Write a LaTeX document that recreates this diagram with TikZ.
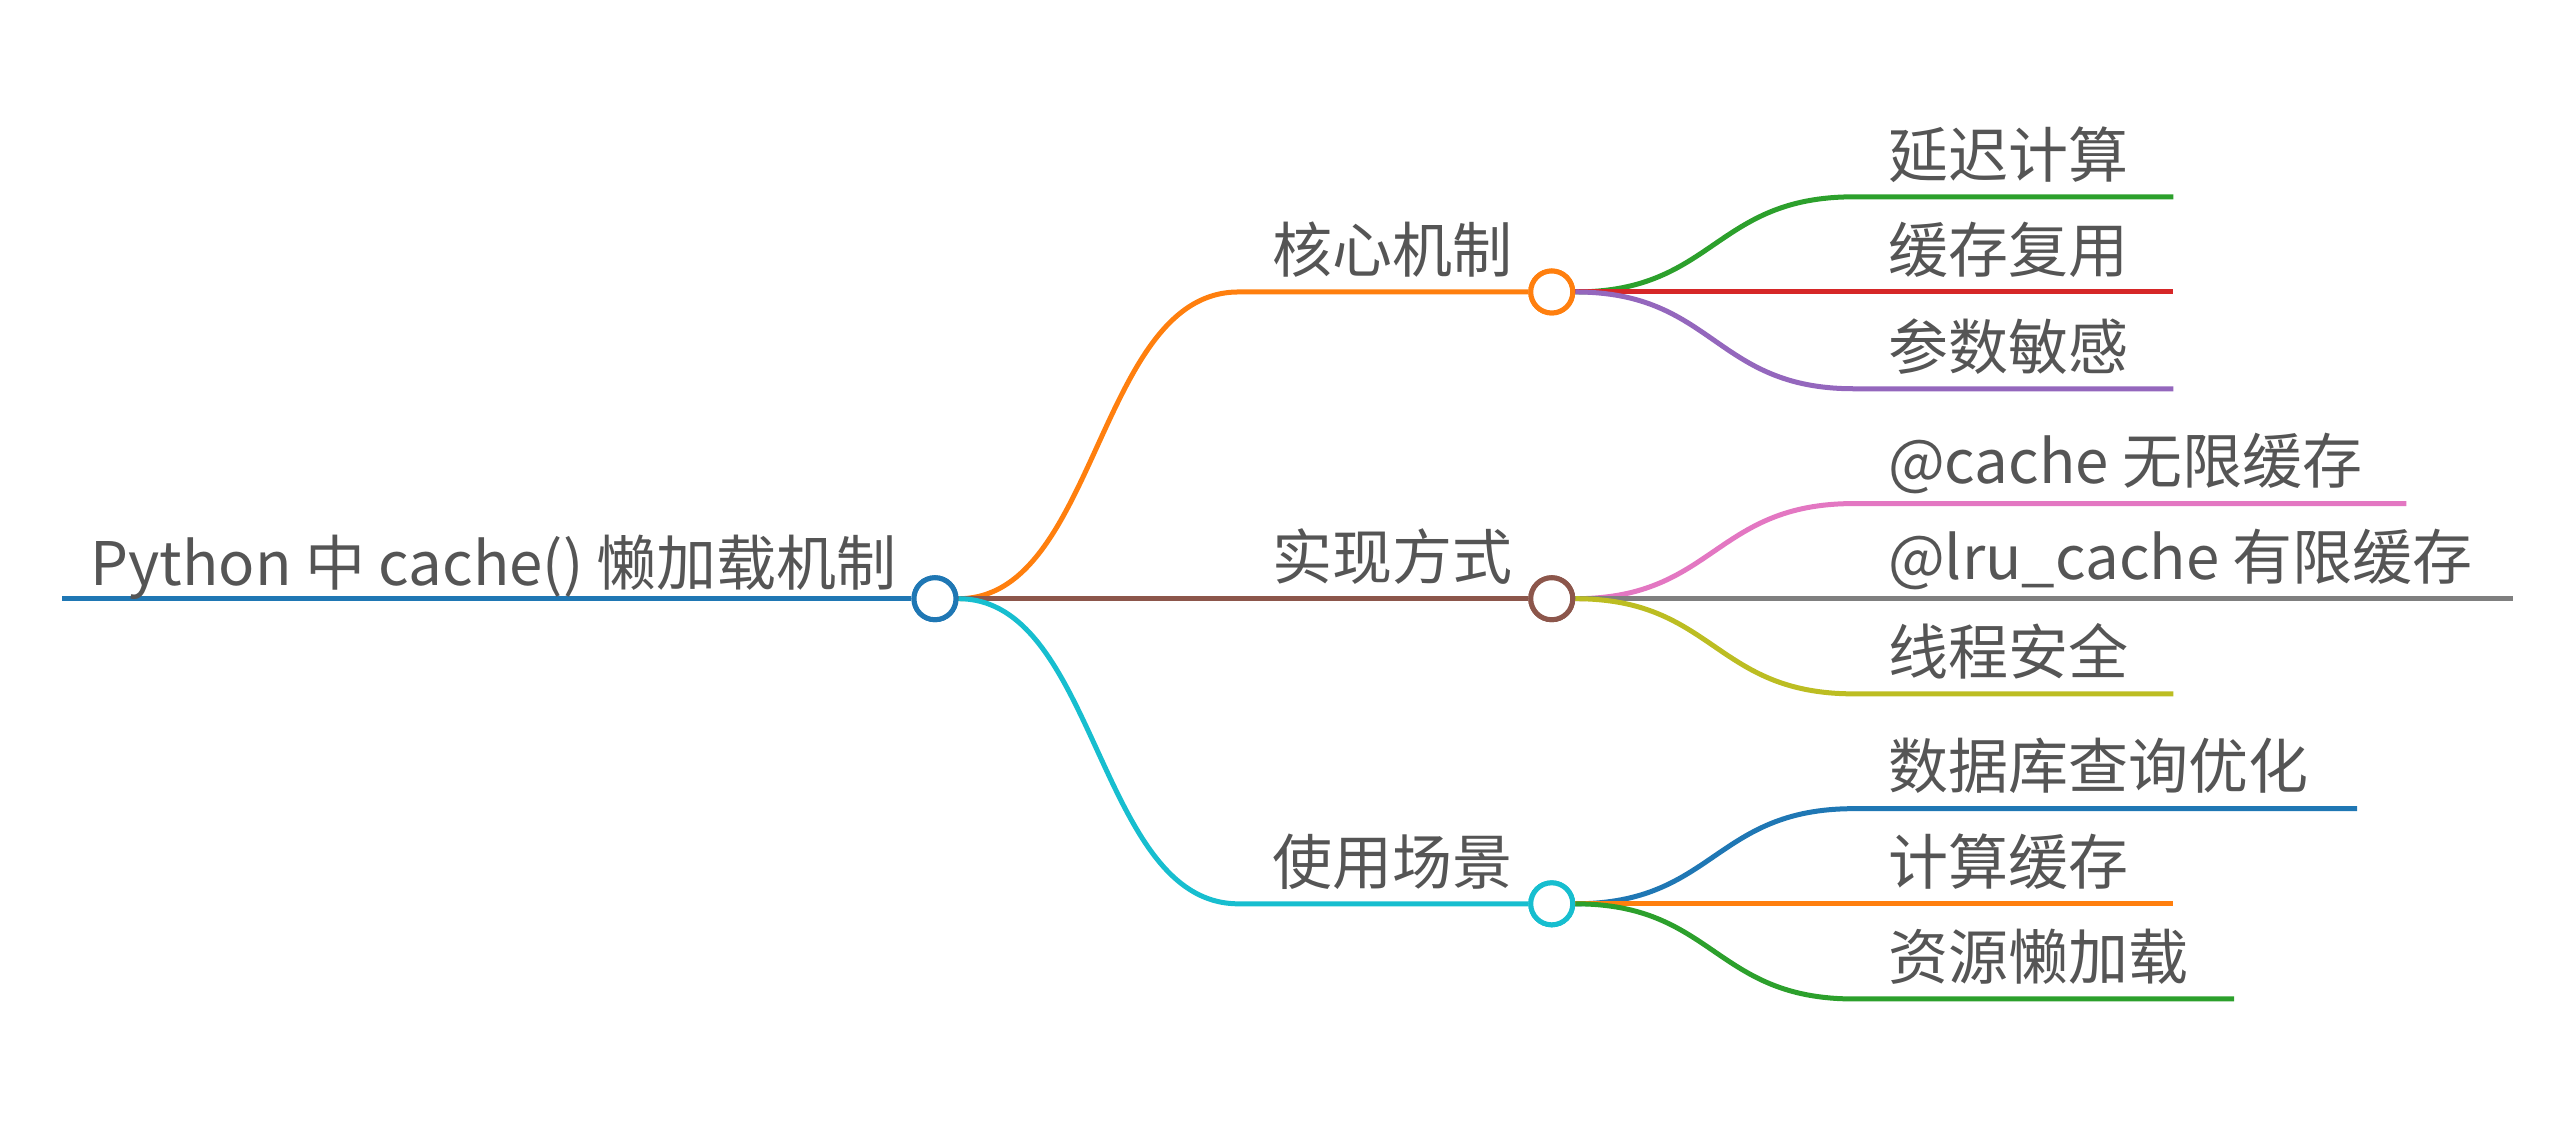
\documentclass[tikz,border=0pt]{standalone}
\usepackage{fontspec}
\setmainfont{Noto Sans CJK SC}
\begin{document}
\begin{tikzpicture}[x=1.64pt,y=-1.64pt,
  lbl/.style={font=\fontsize{60}{64}\selectfont\color[HTML]{555555},inner sep=0pt},
  ln/.style={line width=5pt},
  dot/.style={circle,draw,line width=5pt,fill=white,minimum size=42pt,inner sep=0pt}]
\useasboundingbox (0,0) rectangle (1568,685);
\definecolor{cblue}{HTML}{1F77B4}\definecolor{corange}{HTML}{FF7F0E}
\definecolor{cgreen}{HTML}{2CA02C}\definecolor{cred}{HTML}{D62728}
\definecolor{cpurple}{HTML}{9467BD}\definecolor{cbrown}{HTML}{8C564B}
\definecolor{cpink}{HTML}{E377C2}\definecolor{cgray}{HTML}{7F7F7F}
\definecolor{colive}{HTML}{BCBD22}\definecolor{ccyan}{HTML}{17BECF}
\coordinate (r0) at (38,365);
\node[dot,draw=cblue] (root) at (570,365) {};
\node[dot,draw=corange] (b1) at (946,178) {};
\node[dot,draw=cbrown] (b2) at (946,365) {};
\node[dot,draw=ccyan] (b3) at (946,551) {};
% root line
\draw[ln,cblue] (r0) -- (root.west);
\node[lbl,anchor=base] (tr) at (301,357) {Python 中 cache() 懒加载机制};
% branches
\coordinate (e1) at (755,178); \coordinate (e3) at (755,551);
\draw[ln,corange] (root.east) .. controls (669,365) and (669,178) .. (e1) -- (b1.west);
\draw[ln,cbrown] (root.east) -- (b2.west);
\draw[ln,ccyan] (root.east) .. controls (669,365) and (669,551) .. (e3) -- (b3.west);
\node[lbl,anchor=base] (t1) at (849,166) {核心机制};
\node[lbl,anchor=base] (t2) at (849,353) {实现方式};
\node[lbl,anchor=base] (t3) at (849,539) {使用场景};
% leaves
\foreach \b/\by/\ly/\ex/\col/\txt/\n in {
 b1/178/120/1325/cgreen/延迟计算/l1,
 b1/178/178/1325/cred/缓存复用/l2,
 b1/178/237/1325/cpurple/参数敏感/l3,
 b2/365/307/1467/cpink/@cache 无限缓存/l4,
 b2/365/365/1532/cgray/@lru\_cache 有限缓存/l5,
 b2/365/423/1325/colive/线程安全/l6,
 b3/551/493/1437/cblue/数据库查询优化/l7,
 b3/551/551/1325/corange/计算缓存/l8,
 b3/551/609/1362/cgreen/资源懒加载/l9}{
 \coordinate (\n s) at (1130,\ly);
 \coordinate (\n e) at (\ex,\ly);
 \draw[ln,\col] (\b.east) .. controls (1045,\by) and (1045,\ly) .. (\n s) -- (\n e);
 \node[lbl,anchor=base west] (\n) at (1151,\ly-12) {\txt};
}
\foreach \b/\c in {b1/corange,b2/cbrown,b3/ccyan,root/cblue}{\node[dot,draw=\c] at (\b) {};}
\end{tikzpicture}
\end{document}
